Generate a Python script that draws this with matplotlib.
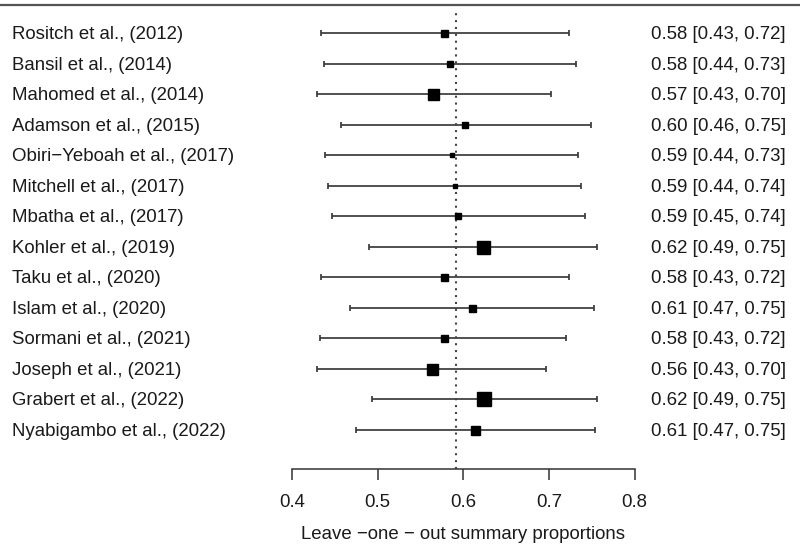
import numpy as np
import matplotlib
matplotlib.use('Agg')
import matplotlib.pyplot as plt

plt.rcParams['font.family'] = ['Liberation Sans', 'DejaVu Sans']

#==============================================================================
# data (leave-one-out estimates)
#==============================================================================
studies = ['Rositch et al., (2012)', 'Bansil et al., (2014)', 'Mahomed et al., (2014)',
           'Adamson et al., (2015)', 'Obiri\u2212Yeboah et al., (2017)', 'Mitchell et al., (2017)',
           'Mbatha et al., (2017)', 'Kohler et al., (2019)', 'Taku et al., (2020)',
           'Islam et al., (2020)', 'Sormani et al., (2021)', 'Joseph et al., (2021)',
           'Grabert et al., (2022)', 'Nyabigambo et al., (2022)']
est   = [0.578, 0.585, 0.565, 0.602, 0.587, 0.590, 0.594, 0.623, 0.578, 0.610, 0.577, 0.563, 0.624, 0.614]
lower = [0.434, 0.437, 0.429, 0.457, 0.439, 0.442, 0.447, 0.490, 0.434, 0.468, 0.433, 0.429, 0.493, 0.475]
upper = [0.723, 0.731, 0.702, 0.749, 0.734, 0.737, 0.742, 0.756, 0.723, 0.753, 0.720, 0.697, 0.756, 0.754]
labels = ['0.58 [0.43, 0.72]', '0.58 [0.44, 0.73]', '0.57 [0.43, 0.70]', '0.60 [0.46, 0.75]',
          '0.59 [0.44, 0.73]', '0.59 [0.44, 0.74]', '0.59 [0.45, 0.74]', '0.62 [0.49, 0.75]',
          '0.58 [0.43, 0.72]', '0.61 [0.47, 0.75]', '0.58 [0.43, 0.72]', '0.56 [0.43, 0.70]',
          '0.62 [0.49, 0.75]', '0.61 [0.47, 0.75]']
weights = [7, 6, 11, 6, 5, 5, 6, 13, 7, 7, 7, 11, 14, 9]   # relative box sizes
overall = 0.592
xticks = [0.4, 0.5, 0.6, 0.7, 0.8]

#==============================================================================
# layout (axes covers whole figure, data coords mapped to pixels)
#==============================================================================
k = len(studies)
rows = np.arange(k, 0, -1)
px_per_unit = 856.5
row_px = 30.54
x0 = 0.4 - 292/px_per_unit
x1 = x0 + 800/px_per_unit
y_top = k + 33/row_px
y_bot = k - 513/row_px
fs = 13.4
dy_txt = 1.5/row_px   # text sits a touch lower than the bars

fig = plt.figure(figsize=(8, 5.46), dpi=100)
ax = fig.add_axes([0, 0, 1, 1])
ax.set_xlim(x0, x1)
ax.set_ylim(y_bot, y_top)

line_col = '#3a3a3a'
txt_col = '#1a1a1a'
for i in range(k):
    ax.errorbar(est[i], rows[i], xerr=[[est[i]-lower[i]], [upper[i]-est[i]]],
                fmt='none', ecolor=line_col, elinewidth=1.25, capsize=2.5, capthick=1.25)
    ax.plot(est[i], rows[i], marker='s', color='black', markersize=weights[i]*0.72,
            linestyle='none', zorder=3)
    ax.text(x0 + 12/px_per_unit, rows[i] - dy_txt, studies[i], ha='left', va='center',
            fontsize=fs, color=txt_col)
    ax.text(x0 + 786/px_per_unit, rows[i] - dy_txt, labels[i], ha='right', va='center',
            fontsize=fs, color=txt_col)

# top rule
y_rule = k + 28/row_px
ax.plot([x0, x1], [y_rule, y_rule], color='#555555', linewidth=1.6)

# dotted summary line
y_axis = 1 - 39/row_px
ax.plot([overall, overall], [y_axis, y_rule - 0.15], color='#444444',
        linestyle=(0, (1, 2.3)), linewidth=1.5)

# bottom axis
for s in ['top', 'right', 'left']:
    ax.spines[s].set_visible(False)
ax.spines['bottom'].set_position(('data', y_axis))
ax.spines['bottom'].set_bounds(xticks[0], xticks[-1])
ax.spines['bottom'].set_color('#333333')
ax.spines['bottom'].set_linewidth(1.1)
ax.set_xticks(xticks)
ax.set_xticklabels([str(t) for t in xticks])
ax.tick_params(axis='x', direction='out', length=8, width=1.1, color='#333333',
               labelsize=fs, pad=10, labelcolor=txt_col)
ax.set_yticks([])
ax.text(0.6, k - (534.5 - 33)/row_px, 'Leave \u2212one \u2212 out summary proportions',
        ha='center', va='center', fontsize=fs, color=txt_col)

fig.savefig('out.png', dpi=100)
